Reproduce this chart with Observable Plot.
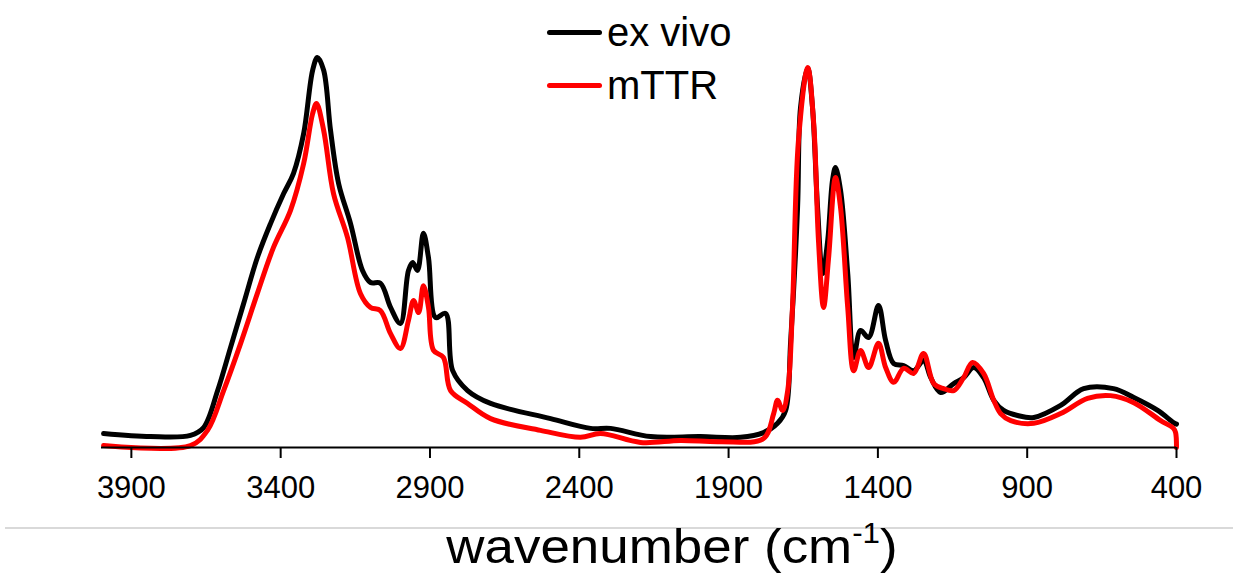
<!DOCTYPE html>
<html>
<head>
<meta charset="utf-8">
<script src="https://cdn.jsdelivr.net/npm/d3@7"></script>
<script src="https://cdn.jsdelivr.net/npm/@observablehq/plot@0.6"></script>
<style>
  html, body { margin: 0; padding: 0; background: #fff; }
  #wrap { position: relative; width: 1233px; height: 575px; font-family: "Liberation Sans", Arial, sans-serif; color: #000; overflow: hidden; }
  #chart { position: absolute; left: 0; top: 0; }
  .leg { position: absolute; left: 547px; display: flex; align-items: center; font-size: 40px; line-height: 1; }
  .leg .sw { width: 55px; height: 5px; border-radius: 3px; margin-right: 5px; }
  #divider { position: absolute; left: 5px; top: 527px; width: 1228px; height: 2px; background: #d9d9d9; }
  #xlabel { position: absolute; left: 0; width: 1344px; top: 506px; text-align: center; font-size: 49px; line-height: 60px; transform: scaleX(1.08); transform-origin: 672px 0; white-space: nowrap; }
  #xlabel sup { font-size: 29px; position: relative; top: -3px; }
</style>
</head>
<body>
<div id="wrap">
  <div id="chart"></div>
  <div id="legend"></div>
  <div id="divider"></div>
  <div id="xlabel">wavenumber (cm<sup>-1</sup>)</div>
</div>
<script>
const seriesNames = ["ex vivo", "mTTR"];
const seriesColors = ["#000000", "#ff0000"];
const xTicks = [3900, 3400, 2900, 2400, 1900, 1400, 900, 400];

const exVivoWave = [3993, 3836, 3702, 3658, 3611, 3568, 3524, 3478, 3434, 3390, 3357, 3323, 3293, 3277, 3256, 3233, 3206, 3166, 3126, 3099, 3066, 3032, 2999, 2972, 2958, 2942, 2922, 2905, 2881, 2848, 2824, 2774, 2697, 2496, 2362, 2295, 2161, 1994, 1860, 1783, 1736, 1709, 1692, 1669, 1659, 1635, 1619, 1602, 1585, 1568, 1552, 1542, 1525, 1501, 1481, 1458, 1431, 1398, 1374, 1347, 1314, 1280, 1247, 1223, 1190, 1146, 1113, 1079, 1046, 1012, 979, 932, 878, 788, 711, 611, 543, 463, 410, 400];
const exVivoAbs = [0.036, 0.028, 0.031, 0.051, 0.146, 0.256, 0.369, 0.487, 0.574, 0.651, 0.703, 0.805, 0.967, 1.000, 0.967, 0.813, 0.677, 0.574, 0.454, 0.423, 0.421, 0.359, 0.318, 0.454, 0.474, 0.454, 0.549, 0.487, 0.333, 0.344, 0.197, 0.146, 0.113, 0.074, 0.049, 0.049, 0.028, 0.028, 0.026, 0.038, 0.062, 0.095, 0.274, 0.615, 0.872, 0.972, 0.872, 0.615, 0.446, 0.531, 0.685, 0.718, 0.659, 0.446, 0.231, 0.300, 0.282, 0.364, 0.274, 0.215, 0.210, 0.197, 0.223, 0.179, 0.141, 0.164, 0.179, 0.205, 0.179, 0.121, 0.095, 0.082, 0.077, 0.108, 0.151, 0.151, 0.128, 0.095, 0.064, 0.060];

const mttrWave = [3993, 3702, 3645, 3591, 3534, 3478, 3424, 3367, 3323, 3293, 3280, 3256, 3223, 3176, 3133, 3099, 3066, 3032, 2999, 2972, 2955, 2938, 2922, 2905, 2888, 2855, 2831, 2774, 2697, 2530, 2396, 2329, 2195, 2061, 1927, 1783, 1749, 1736, 1719, 1702, 1686, 1666, 1635, 1615, 1599, 1582, 1565, 1542, 1525, 1501, 1481, 1458, 1431, 1398, 1374, 1347, 1314, 1280, 1247, 1213, 1180, 1146, 1113, 1083, 1046, 1012, 989, 955, 878, 788, 698, 621, 543, 453, 410, 403, 400];
const mttrAbs = [0.005, 0.005, 0.044, 0.146, 0.267, 0.395, 0.513, 0.608, 0.728, 0.856, 0.882, 0.813, 0.651, 0.538, 0.395, 0.359, 0.351, 0.292, 0.254, 0.326, 0.377, 0.346, 0.415, 0.359, 0.249, 0.231, 0.146, 0.113, 0.074, 0.044, 0.026, 0.036, 0.013, 0.018, 0.015, 0.023, 0.087, 0.121, 0.095, 0.146, 0.359, 0.787, 0.974, 0.831, 0.531, 0.359, 0.487, 0.692, 0.615, 0.359, 0.197, 0.249, 0.205, 0.267, 0.205, 0.167, 0.203, 0.190, 0.241, 0.164, 0.151, 0.146, 0.179, 0.218, 0.190, 0.121, 0.087, 0.069, 0.062, 0.087, 0.126, 0.133, 0.115, 0.069, 0.049, 0.038, 0.0];

const exVivo = exVivoWave.map((w, i) => ({w, a: exVivoAbs[i], s: seriesNames[0]}));
const mttr = mttrWave.map((w, i) => ({w, a: mttrAbs[i], s: seriesNames[1]}));

const chart = Plot.plot({
  width: 1233,
  height: 515,
  marginLeft: 101,
  marginRight: 57,
  marginTop: 0,
  marginBottom: 68,
  style: { fontFamily: "'Liberation Sans', Arial, sans-serif", fontSize: "31px", color: "#000", background: "#fff", overflow: "visible" },
  x: { domain: [4000, 400] },
  y: { domain: [0, 1.146], axis: null },
  marks: [
    Plot.line(exVivo, { x: "w", y: "a", stroke: seriesColors[0], strokeWidth: 5, curve: "catmull-rom", strokeLinejoin: "round" }),
    Plot.line(mttr, { x: "w", y: "a", stroke: seriesColors[1], strokeWidth: 5, curve: "catmull-rom", strokeLinejoin: "round" }),
    Plot.ruleY([0], { stroke: "#000", strokeWidth: 2 }),
    Plot.axisX({ ticks: xTicks, tickFormat: d => String(d), tickSize: 11, tickPadding: 17, strokeWidth: 2, stroke: "#000", fill: "#000", fontSize: 31, label: null })
  ]
});
document.getElementById("chart").appendChild(chart);

const legend = document.getElementById("legend");
const legTops = [12, 65];
seriesNames.forEach((name, i) => {
  const row = document.createElement("div");
  row.className = "leg";
  row.style.top = legTops[i] + "px";
  row.innerHTML = `<div class="sw" style="background:${seriesColors[i]}"></div><span>${name}</span>`;
  legend.appendChild(row);
});
</script>
</body>
</html>
